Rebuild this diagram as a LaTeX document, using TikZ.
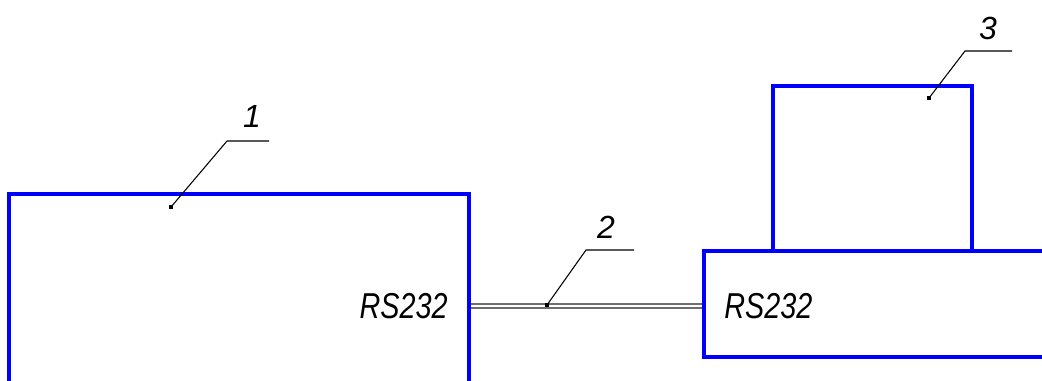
\documentclass[tikz,border=0pt]{standalone}
\usepackage{fontspec}
\setmainfont{Liberation Sans}
\usetikzlibrary{positioning, fit, calc}
\definecolor{unit}{RGB}{0,0,255}
\definecolor{wire}{RGB}{110,110,110}

\begin{document}
\begin{tikzpicture}[
    x=0.75pt, y=-0.75pt,
    blk/.style={draw=unit, line width=2.8pt, inner sep=0pt},
    cable/.style={draw=wire, line width=1.1pt},
    leader/.style={draw=black, line width=0.8pt},
    tip/.style={fill=black, minimum size=3.5pt, inner sep=0pt},
    num/.style={font=\fontsize{24}{28}\selectfont\itshape},
    port/.style={font=\fontsize{27}{30}\selectfont\itshape, inner sep=0pt},
]
\useasboundingbox (0,0) rectangle (1042,380);
\clip (0,0) rectangle (1042,380);

% Units
\node[blk, fit={(9,194) (469,430)}] (pc) {};
\node[blk, fit={(704,251) (1100,357)}] (base) {};
\node[blk, fit={(773,86) (972,251)}] (top) {};

% Port labels
\node[port, anchor=east] (rs1) at (448,306) {\scalebox{0.8}[1]{RS232}};
\node[port, anchor=west] (rs2) at (724,306) {\scalebox{0.8}[1]{RS232}};

% Cable
\draw[cable] (pc.east |- 0,304) -- (base.west |- 0,304);
\draw[cable] (pc.east |- 0,308) -- (base.west |- 0,308);

% Leaders
\node[tip] (d1) at (171,207) {};
\coordinate (k1) at (227,141);
\coordinate (e1) at (269,141);
\node[num] (n1) at (252,116) {1};
\draw[leader] (d1.center) -- (k1) -- (e1);

\node[tip] (d2) at (547,305) {};
\coordinate (k2) at (586,250);
\coordinate (e2) at (634,250);
\node[num] (n2) at (606,227) {2};
\draw[leader] (d2.center) -- (k2) -- (e2);

\node[tip] (d3) at (929,98) {};
\coordinate (k3) at (965,51);
\coordinate (e3) at (1012,51);
\node[num] (n3) at (988,28) {3};
\draw[leader] (d3.center) -- (k3) -- (e3);

\end{tikzpicture}
\end{document}
